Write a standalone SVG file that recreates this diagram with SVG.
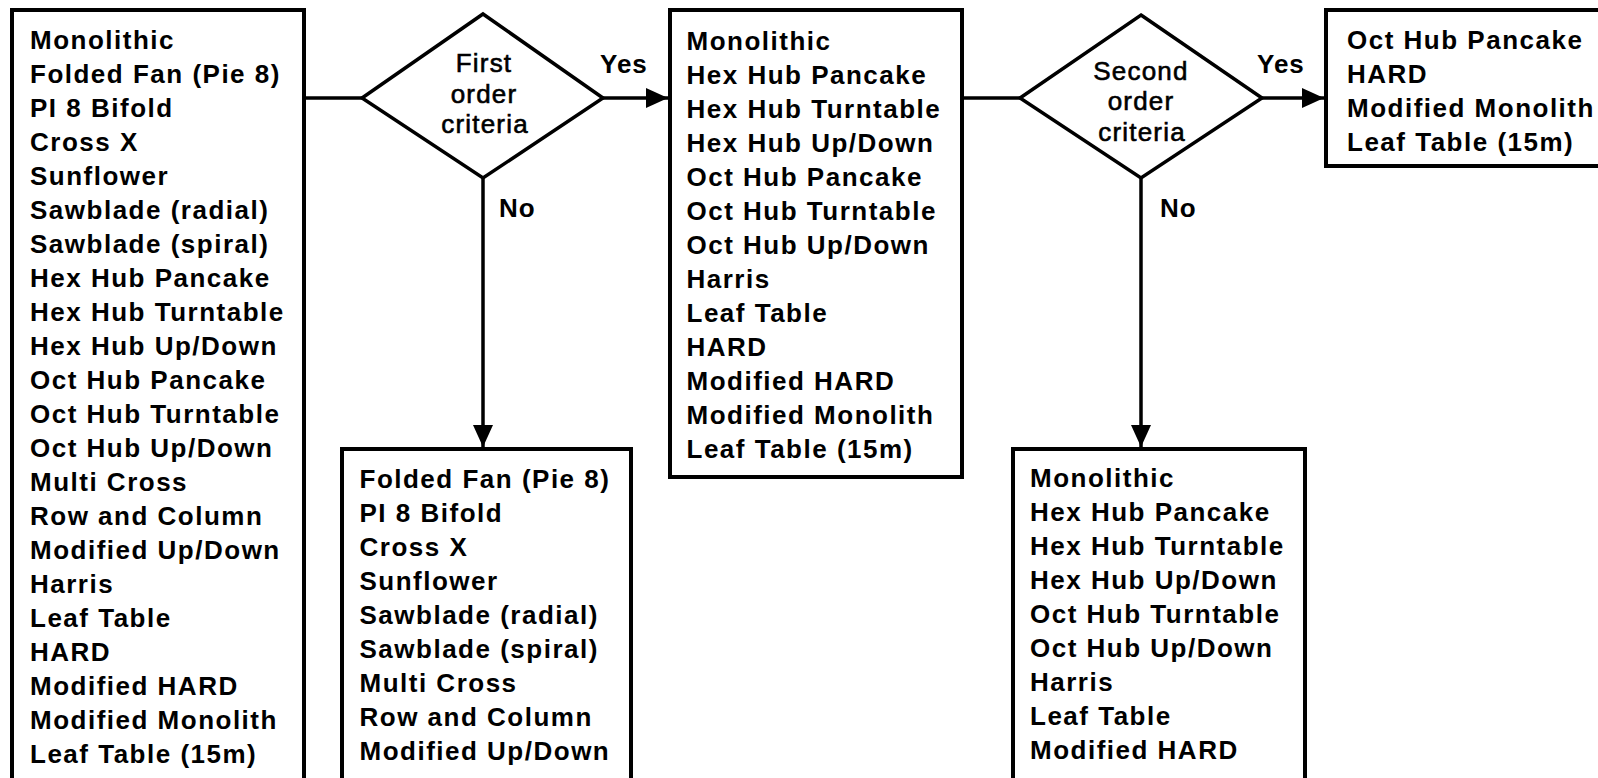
<svg xmlns="http://www.w3.org/2000/svg" width="1598" height="778" viewBox="0 0 1598 778">
<defs>
<style>
.box{fill:#fff;stroke:#000;stroke-width:4}
.dia{fill:#fff;stroke:#000;stroke-width:3.5;stroke-linejoin:miter}
.con{fill:none;stroke:#000;stroke-width:3.5}
.t{font-family:"Liberation Sans",Arial,sans-serif;font-weight:bold;font-size:26px;letter-spacing:1.5px;fill:#000}
.d{font-family:"Liberation Sans",Arial,sans-serif;font-weight:normal;font-size:26px;letter-spacing:1.2px;fill:#000;stroke:#000;stroke-width:0.6;text-anchor:middle}
.l{font-family:"Liberation Sans",Arial,sans-serif;font-weight:bold;font-size:26px;letter-spacing:1px;fill:#000}
</style>
<marker id="ah" markerUnits="userSpaceOnUse" markerWidth="24" markerHeight="24" refX="22" refY="10" orient="auto" viewBox="0 0 24 24">
<path d="M0,0 L22,10 L0,20 Z" fill="#000"/>
</marker>
</defs>
<rect width="1598" height="778" fill="#fff"/>

<g id="connectors">
<line class="con" x1="304" y1="98" x2="668" y2="98" marker-end="url(#ah)"/>
<line class="con" x1="483" y1="178" x2="483" y2="447" marker-end="url(#ah)"/>
<line class="con" x1="962" y1="98" x2="1324" y2="98" marker-end="url(#ah)"/>
<line class="con" x1="1141" y1="178" x2="1141" y2="447" marker-end="url(#ah)"/>
<text class="l" x="600" y="72.5">Yes</text>
<text class="l" x="499" y="217">No</text>
<text class="l" x="1257" y="72.5">Yes</text>
<text class="l" x="1160" y="217">No</text>
</g>

<g id="box-all">
<rect class="box" x="12" y="10" width="292" height="790"/>
<text class="t" x="30" y="49">Monolithic</text>
<text class="t" x="30" y="83">Folded Fan (Pie 8)</text>
<text class="t" x="30" y="117">PI 8 Bifold</text>
<text class="t" x="30" y="151">Cross X</text>
<text class="t" x="30" y="185">Sunflower</text>
<text class="t" x="30" y="219">Sawblade (radial)</text>
<text class="t" x="30" y="253">Sawblade (spiral)</text>
<text class="t" x="30" y="287">Hex Hub Pancake</text>
<text class="t" x="30" y="321">Hex Hub Turntable</text>
<text class="t" x="30" y="355">Hex Hub Up/Down</text>
<text class="t" x="30" y="389">Oct Hub Pancake</text>
<text class="t" x="30" y="423">Oct Hub Turntable</text>
<text class="t" x="30" y="457">Oct Hub Up/Down</text>
<text class="t" x="30" y="491">Multi Cross</text>
<text class="t" x="30" y="525">Row and Column</text>
<text class="t" x="30" y="559">Modified Up/Down</text>
<text class="t" x="30" y="593">Harris</text>
<text class="t" x="30" y="627">Leaf Table</text>
<text class="t" x="30" y="661">HARD</text>
<text class="t" x="30" y="695">Modified HARD</text>
<text class="t" x="30" y="729">Modified Monolith</text>
<text class="t" x="30" y="763">Leaf Table (15m)</text>
</g>

<g id="decision-first">
<polygon class="dia" points="483,14 603,98 483,178 362,98"/>
<text class="d" x="484" y="72">First</text>
<text class="d" x="484" y="102.5">order</text>
<text class="d" x="485" y="133">criteria</text>
</g>

<g id="box-first-yes">
<rect class="box" x="670" y="10" width="292" height="467"/>
<text class="t" x="686.5" y="50">Monolithic</text>
<text class="t" x="686.5" y="84">Hex Hub Pancake</text>
<text class="t" x="686.5" y="118">Hex Hub Turntable</text>
<text class="t" x="686.5" y="152">Hex Hub Up/Down</text>
<text class="t" x="686.5" y="186">Oct Hub Pancake</text>
<text class="t" x="686.5" y="220">Oct Hub Turntable</text>
<text class="t" x="686.5" y="254">Oct Hub Up/Down</text>
<text class="t" x="686.5" y="288">Harris</text>
<text class="t" x="686.5" y="322">Leaf Table</text>
<text class="t" x="686.5" y="356">HARD</text>
<text class="t" x="686.5" y="390">Modified HARD</text>
<text class="t" x="686.5" y="424">Modified Monolith</text>
<text class="t" x="686.5" y="458">Leaf Table (15m)</text>
</g>

<g id="box-first-no">
<rect class="box" x="342" y="449" width="289" height="360"/>
<text class="t" x="359.5" y="488">Folded Fan (Pie 8)</text>
<text class="t" x="359.5" y="522">PI 8 Bifold</text>
<text class="t" x="359.5" y="556">Cross X</text>
<text class="t" x="359.5" y="590">Sunflower</text>
<text class="t" x="359.5" y="624">Sawblade (radial)</text>
<text class="t" x="359.5" y="658">Sawblade (spiral)</text>
<text class="t" x="359.5" y="692">Multi Cross</text>
<text class="t" x="359.5" y="726">Row and Column</text>
<text class="t" x="359.5" y="760">Modified Up/Down</text>
</g>

<g id="decision-second">
<polygon class="dia" points="1141,15 1262,98 1141,178 1020,98"/>
<text class="d" x="1141" y="79.5">Second</text>
<text class="d" x="1141" y="110">order</text>
<text class="d" x="1142" y="140.5">criteria</text>
</g>

<g id="box-second-yes">
<rect class="box" x="1326" y="10" width="290" height="156"/>
<text class="t" x="1347" y="49">Oct Hub Pancake</text>
<text class="t" x="1347" y="83">HARD</text>
<text class="t" x="1347" y="117">Modified Monolith</text>
<text class="t" x="1347" y="151">Leaf Table (15m)</text>
</g>

<g id="box-second-no">
<rect class="box" x="1013" y="449" width="292" height="360"/>
<text class="t" x="1030" y="487">Monolithic</text>
<text class="t" x="1030" y="521">Hex Hub Pancake</text>
<text class="t" x="1030" y="555">Hex Hub Turntable</text>
<text class="t" x="1030" y="589">Hex Hub Up/Down</text>
<text class="t" x="1030" y="623">Oct Hub Turntable</text>
<text class="t" x="1030" y="657">Oct Hub Up/Down</text>
<text class="t" x="1030" y="691">Harris</text>
<text class="t" x="1030" y="725">Leaf Table</text>
<text class="t" x="1030" y="759">Modified HARD</text>
</g>
</svg>
